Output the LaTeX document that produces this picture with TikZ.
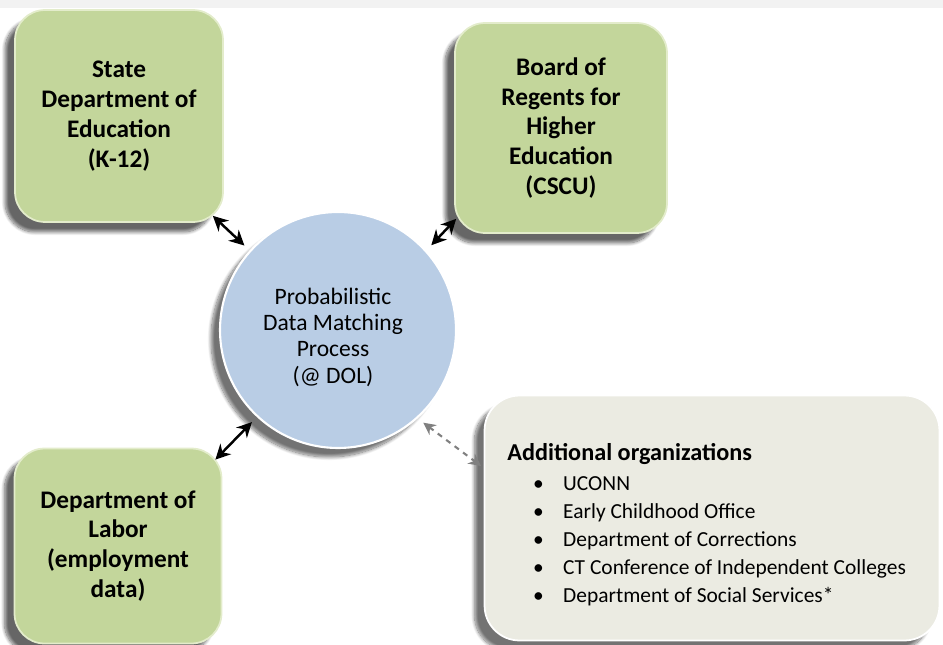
\documentclass[tikz,border=0pt]{standalone}
\usepackage{fontspec}
\setmainfont{Carlito}
\usetikzlibrary{shadows.blur,arrows.meta}

\definecolor{boxgreen}{HTML}{C3D69B}
\definecolor{boxedge}{HTML}{E3ECCB}
\definecolor{hubblue}{HTML}{B9CDE5}
\definecolor{notegrey}{HTML}{EBEBE2}

\tikzstyle{orgbox} = [rounded corners=0.6cm, fill=boxgreen, draw=boxedge, line width=1pt,
  blur shadow={shadow xshift=-2mm, shadow yshift=-2mm, shadow blur steps=12, shadow opacity=60},
  align=center, font=\fontsize{14.4}{17}\selectfont\bfseries, inner sep=0pt]
\tikzstyle{hub} = [circle, fill=hubblue, draw=white, line width=1.2pt,
  blur shadow={shadow xshift=-1.8mm, shadow yshift=-1.8mm, shadow blur steps=12, shadow opacity=55},
  inner sep=0pt]
\tikzstyle{hubtext} = [align=center, font=\fontsize{13.4}{15}\selectfont, inner sep=0pt]
\tikzstyle{note} = [rounded corners=0.7cm, fill=notegrey, draw=white, line width=1pt,
  blur shadow={shadow xshift=-2mm, shadow yshift=-2mm, shadow blur steps=12, shadow opacity=55},
  inner sep=0pt]
\tikzstyle{notetext} = [align=left, font=\fontsize{12.2}{15.9}\selectfont, inner sep=0pt]
\tikzstyle{link} = [{Stealth[length=8.5pt,width=8.5pt]}-{Stealth[length=8.5pt,width=8.5pt]},
  line width=1.4pt, black, shorten >=4pt]
\tikzstyle{maybe} = [{Stealth[length=7pt,width=7pt]}-{Stealth[length=7pt,width=7pt]},
  line width=1.2pt, dashed, black!50, shorten <=4pt]

\newcommand{\orgitem}[1]{\hspace{14.7pt}\makebox[17.1pt][l]{\textbullet}#1}

\begin{document}
\begin{tikzpicture}[x=0.02cm, y=-0.02cm]
\useasboundingbox (0,0) rectangle (943,645);
%\draw[help lines] (0,0) grid (943,645);
\fill[black!5] (0,0) rectangle (943,8);

%boxes
\node[orgbox, minimum width=4.16cm, minimum height=4.24cm] (sde) at (119,116)
  {State\\Department of\\Education\\(K-12)};
\node[orgbox, minimum width=4.24cm, minimum height=4.2cm] (bor) at (561,128)
  {Board of\\Regents for\\Higher\\Education\\(CSCU)};
\node[orgbox, minimum width=4.14cm, minimum height=3.9cm] (dol) at (118,546)
  {Department of\\Labor\\(employment\\data)};

%matching process
\node[hub, minimum size=4.72cm] (pdm) at (338,330) {};
\node[hubtext] (pdmtext) at (333,337)
  {Probabilistic\\Data Matching\\Process\\(@ DOL)};

%other organizations
\node[note, minimum width=9.1cm, minimum height=4.9cm] (add) at (712,518) {};
\node[notetext, anchor=north west] (addtext) at (507,443)
  {{\fontsize{13.8}{17}\selectfont\bfseries Additional organizations}\\[1.2pt]
   \orgitem{UCONN}\\
   \orgitem{Early Childhood Office}\\
   \orgitem{Department of Corrections}\\
   \orgitem{CT Conference of Independent Colleges}\\
   \orgitem{Department of Social Services*}};

%arrows
\coordinate (sdeout) at ([shift={(-11,-7)}]sde.south east);
\coordinate (borout) at ([shift={(2,-15)}]bor.south west);
\coordinate (dolout) at ([shift={(-7,12)}]dol.north east);
\coordinate (addin) at (481,466);
\draw[link] (sdeout) -- (pdm.138);
\draw[link] (borout) -- (pdm.42);
\draw[link] (dolout) -- (pdm.227);
\draw[maybe] (pdm.-48) -- (addin);
\end{tikzpicture}
\end{document}
